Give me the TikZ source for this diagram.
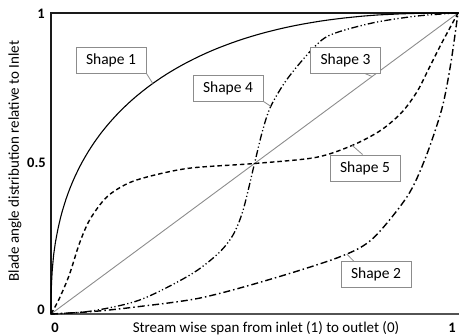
\documentclass[tikz,border=0pt]{standalone}
\usepackage{fontspec}
\setmainfont{Carlito}
\usetikzlibrary{calc}
\definecolor{BldGray}{HTML}{8C8C8C}
\definecolor{BldAxis}{HTML}{1A1A1A}

\begin{document}
\begin{tikzpicture}[x=1pt,y=1pt,
    shapelab/.style={draw=BldGray,fill=white,line width=0.9pt,minimum width=70pt,minimum height=26pt,inner sep=0pt,font=\fontsize{15.5}{17}\selectfont},
    leader/.style={BldGray,line width=0.8pt},
    ticklab/.style={font=\fontsize{14.5}{16}\selectfont\bfseries}]
  \useasboundingbox (0,0) rectangle (459,335);
  \draw[line width=1.4pt,BldAxis] (459,322)--(51,322)--(51,21);
  \draw[line width=2.2pt,BldAxis!75] (50,21)--(459,21);
  \begin{scope}[shift={(51,21)},x=407pt,y=301pt]
    \draw[BldGray,line width=0.9pt] (0,0)--(1,1);
    % shape 1
    \draw[line width=1.1pt,variable=\t,domain=0.5:89.5,samples=80]
      (0,0) -- plot ({1-cos(\t)^0.8},{sin(\t)^0.8}) -- (1,1);
    % shape 2
    \draw[line width=1.4pt,dash pattern=on 7pt off 3pt on 1.5pt off 3pt]
      plot[smooth] coordinates {(0,0) (0.1,0.008) (0.2,0.022) (0.366,0.053) (0.538,0.115)
        (0.71,0.19) (0.79,0.25) (0.875,0.39) (0.919,0.515) (0.96,0.68) (0.982,0.83) (1,1)};
    % shape 4
    \draw[line width=1.3pt,dash pattern=on 7pt off 2.5pt on 1.2pt off 2.5pt on 1.2pt off 2.5pt]
      plot[smooth] coordinates {(0,0) (0.1,0.01) (0.219,0.047) (0.342,0.13) (0.41,0.2)
        (0.447,0.262) (0.472,0.345) (0.5,0.5) (0.52,0.61) (0.54,0.69) (0.58,0.78)
        (0.64,0.877) (0.686,0.927) (0.79,0.967) (0.9,0.99) (1,1)};
    % shape 5
    \draw[line width=1.4pt,dash pattern=on 4.5pt off 3pt]
      plot[smooth] coordinates {(0,0) (0.02,0.05) (0.045,0.13) (0.07,0.235) (0.096,0.315)
        (0.138,0.39) (0.194,0.437) (0.268,0.466) (0.35,0.486) (0.5,0.5) (0.65,0.52)
        (0.74,0.56) (0.81,0.61) (0.862,0.67) (0.9,0.74) (0.93,0.82) (0.96,0.9) (1,1)};
    \coordinate (c1) at (0.25,0.766);
    \coordinate (c2) at (0.727,0.199);
    \coordinate (c3) at (0.789,0.789);
    \coordinate (c4) at (0.54,0.69);
    \coordinate (c5) at (0.74,0.56);
  \end{scope}
  \node[shapelab] (s1lab) at (111,275) {Shape 1};
  \node[shapelab] (s3lab) at (345.5,275) {Shape 3};
  \node[shapelab] (s4lab) at (228,247) {Shape 4};
  \node[shapelab] (s5lab) at (365,167) {Shape 5};
  \node[shapelab] (s2lab) at (376,60.5) {Shape 2};
  \draw[leader] (s1lab.south east) -- (c1);
  \draw[leader] (s3lab.-35) -- (c3);
  \draw[leader] (s4lab.south east) -- (c4);
  \draw[leader] (s5lab.100) -- (c5);
  \draw[leader] (s2lab.149) -- (c2);
  \node[ticklab] (y1) at (41,321) {1};
  \node[ticklab] (y05) at (36.5,172) {0.5};
  \node[ticklab] (y0) at (41,25) {0};
  \node[ticklab] (x0) at (55,7) {0};
  \node[ticklab] (x1) at (452,7) {1};
  \node[font=\fontsize{15}{17}\selectfont] (xlab) at (266,7) {Stream wise span from inlet (1) to outlet (0)};
  \node[font=\fontsize{15}{17}\selectfont,rotate=90] (ylab) at (15,174) {Blade angle distribution relative to Inlet};
\end{tikzpicture}
\end{document}
